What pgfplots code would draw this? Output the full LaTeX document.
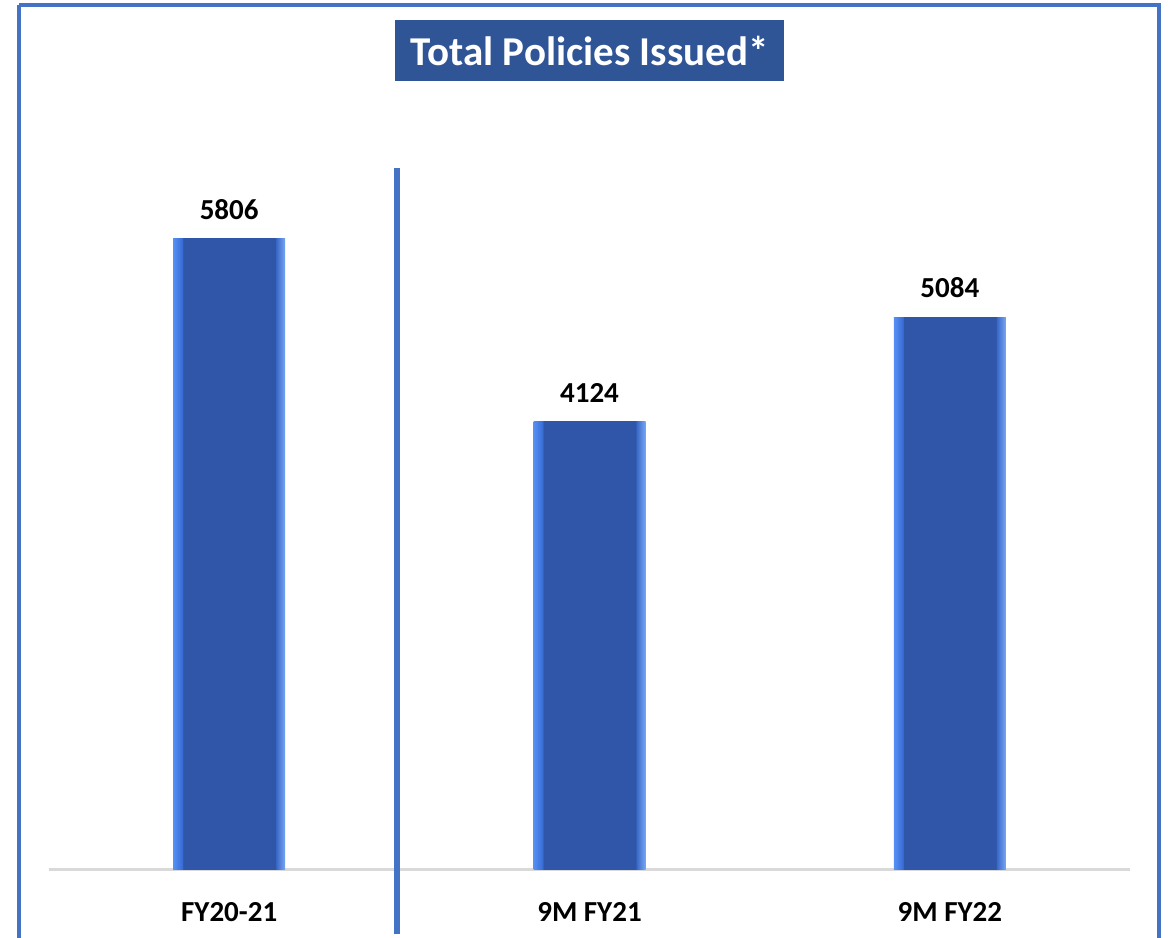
\documentclass[border=0pt]{standalone}
\usepackage{fontspec}
\setmainfont{Carlito}
\usepackage{pgfplots}
\pgfplotsset{compat=1.18}
\definecolor{frameblue}{HTML}{4472C4}
\definecolor{titleblue}{HTML}{2F5597}
\definecolor{barM}{HTML}{2F56A8}
\definecolor{bevL}{HTML}{5590F5}
\definecolor{bevL2}{HTML}{3A6DD6}
\definecolor{bevR}{HTML}{78A6F5}
\definecolor{bevR2}{HTML}{3A68C8}
\definecolor{baseline}{HTML}{D9D9D9}
\pgfdeclarehorizontalshading{bevel}{100bp}{color(0bp)=(bevL); color(25bp)=(bevL); color(29bp)=(bevL2); color(29.5bp)=(barM); color(70.5bp)=(barM); color(71bp)=(bevR2); color(75bp)=(bevR); color(100bp)=(bevR)}
\pgfplotstableread{
x y
0 5806
}\barA
\pgfplotstableread{
x y
1 4124
}\barB
\pgfplotstableread{
x y
2 5084
}\barC
\begin{document}
\begin{tikzpicture}
\useasboundingbox (0pt,0pt) rectangle (585pt,468.5pt);
\fill[white] (0pt,0pt) rectangle (585pt,468.5pt);
\begin{axis}[
  at={(24.5pt,34pt)}, anchor=south west,
  scale only axis,
  width=540.5pt, height=384.5pt,
  xmin=-0.5, xmax=2.5,
  ymin=0, ymax=7087,
  axis x line=bottom,
  axis y line=none,
  x axis line style={draw=baseline, line width=1.5pt, -},
  xtick={0,1,2},
  xticklabels={FY20-21, 9M FY21, 9M FY22},
  xtick style={draw=none},
  xticklabel style={font=\fontsize{14.5}{17}\selectfont\bfseries, text=black, anchor=north, inner sep=0pt, yshift=-14.5pt},
  ytick=\empty,
  /pgf/number format/assume math mode=true,
  /pgf/number format/1000 sep={},
  nodes near coords,
  nodes near coords style={font=\fontsize{14.5}{17}\selectfont\bfseries, text=black, anchor=south, inner sep=0pt, yshift=9.5pt},
  mybar/.style={ybar, bar width=56pt, bar shift=0pt, draw=none, shading=bevel, mark=none},
  clip=false,
]
\addplot[mybar] table[x=x,y=y] {\barA};
\addplot[mybar] table[x=x,y=y] {\barB};
\addplot[mybar] table[x=x,y=y] {\barC};
\end{axis}
\begin{scope}[x=0.5pt,y=0.5pt]
\draw[frameblue, line width=3pt] (397,769) -- (397,3);
\draw[frameblue, line width=2pt] (19,932) -- (1159,932) -- (1159,-20);
\draw[frameblue, line width=2pt] (19,932) -- (19,-20);
\fill[titleblue] (395,917) rectangle (784,856);
\node[text=white, font=\fontsize{20.5}{24}\selectfont\bfseries] at (589.5,886.5) {Total Policies Issued*};
\end{scope}
\end{tikzpicture}
\end{document}
